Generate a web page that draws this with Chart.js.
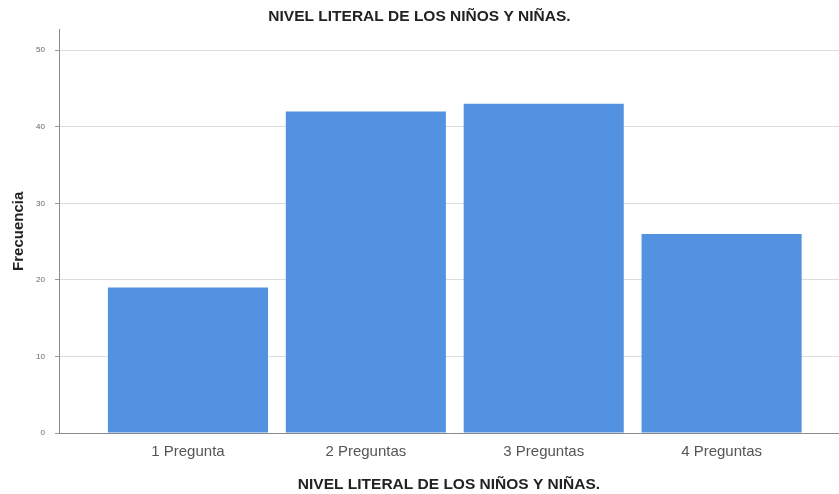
<!DOCTYPE html>
<html>
<head>
<meta charset="utf-8">
<script src="https://cdn.jsdelivr.net/npm/chart.js@4/dist/chart.umd.min.js"></script>
<style>
  html, body { margin: 0; padding: 0; background: #fff; }
  #wrap { width: 839px; height: 494px; }
</style>
</head>
<body>
<div id="wrap"><canvas id="nivel-chart" width="839" height="494"></canvas></div>
<script>
const chartTitle = "NIVEL LITERAL DE LOS NIÑOS Y NIÑAS.";
const categories = ["1 Pregunta", "2 Preguntas", "3 Preguntas", "4 Preguntas"];
const frequencies = [19, 42, 43, 26];
const yTicks = [0, 10, 20, 30, 40, 50];

function createChart() {
  const canvas = document.getElementById("nivel-chart");
  const points = categories.map((c, i) => ({ x: i + 1, y: frequencies[i] }));

  new Chart(canvas, {
    type: "bar",
    data: {
      datasets: [
        {
          data: points,
          backgroundColor: "#5392e1",
          borderWidth: 0,
          barPercentage: 0.9,
          categoryPercentage: 1,
        },
      ],
    },
    options: {
      responsive: false,
      animation: false,
      layout: { padding: 0 },
      plugins: {
        legend: { display: false },
        tooltip: { enabled: false },
        title: {
          display: true,
          text: chartTitle,
          color: "#222",
          font: { family: "Liberation Sans, Arial", size: 15.5, weight: "bold" },
          padding: { top: 7, bottom: 4 },
        },
      },
      scales: {
        x: {
          type: "linear",
          offset: false,
          min: 0.275,
          max: 4.66,
          grid: { display: false, offset: false },
          border: { display: true, color: "#8a8a8a", width: 1 },
          afterBuildTicks: (scale) => {
            scale.ticks = categories.map((c, i) => ({ value: i + 1 }));
          },
          afterFit: (scale) => {
            scale.height = 61;
          },
          ticks: {
            autoSkip: false,
            maxRotation: 0,
            padding: 2,
            color: "#555",
            font: { family: "Liberation Sans, Arial", size: 15 },
            callback: (v) => categories[v - 1] || "",
          },
          title: {
            display: true,
            text: chartTitle,
            color: "#222",
            font: { family: "Liberation Sans, Arial", size: 15.5, weight: "bold" },
            padding: { top: 4, bottom: 0 },
          },
        },
        y: {
          min: 0,
          max: 52.7,
          afterBuildTicks: (scale) => {
            scale.ticks = yTicks.map((v) => ({ value: v }));
          },
          afterFit: (scale) => {
            scale.width = 59;
          },
          grid: {
            color: "#dcdcdc",
            tickColor: "#9a9a9a",
            tickLength: 4,
          },
          border: { display: true, color: "#8a8a8a", width: 1 },
          ticks: {
            padding: 10,
            color: "#666",
            font: { family: "Liberation Sans, Arial", size: 8 },
          },
          title: {
            display: true,
            text: "Frecuencia",
            color: "#222",
            font: { family: "Liberation Sans, Arial", size: 15, weight: "bold" },
            padding: { top: 10, bottom: 0 },
          },
        },
      },
    },
  });
}

createChart();
</script>
</body>
</html>
